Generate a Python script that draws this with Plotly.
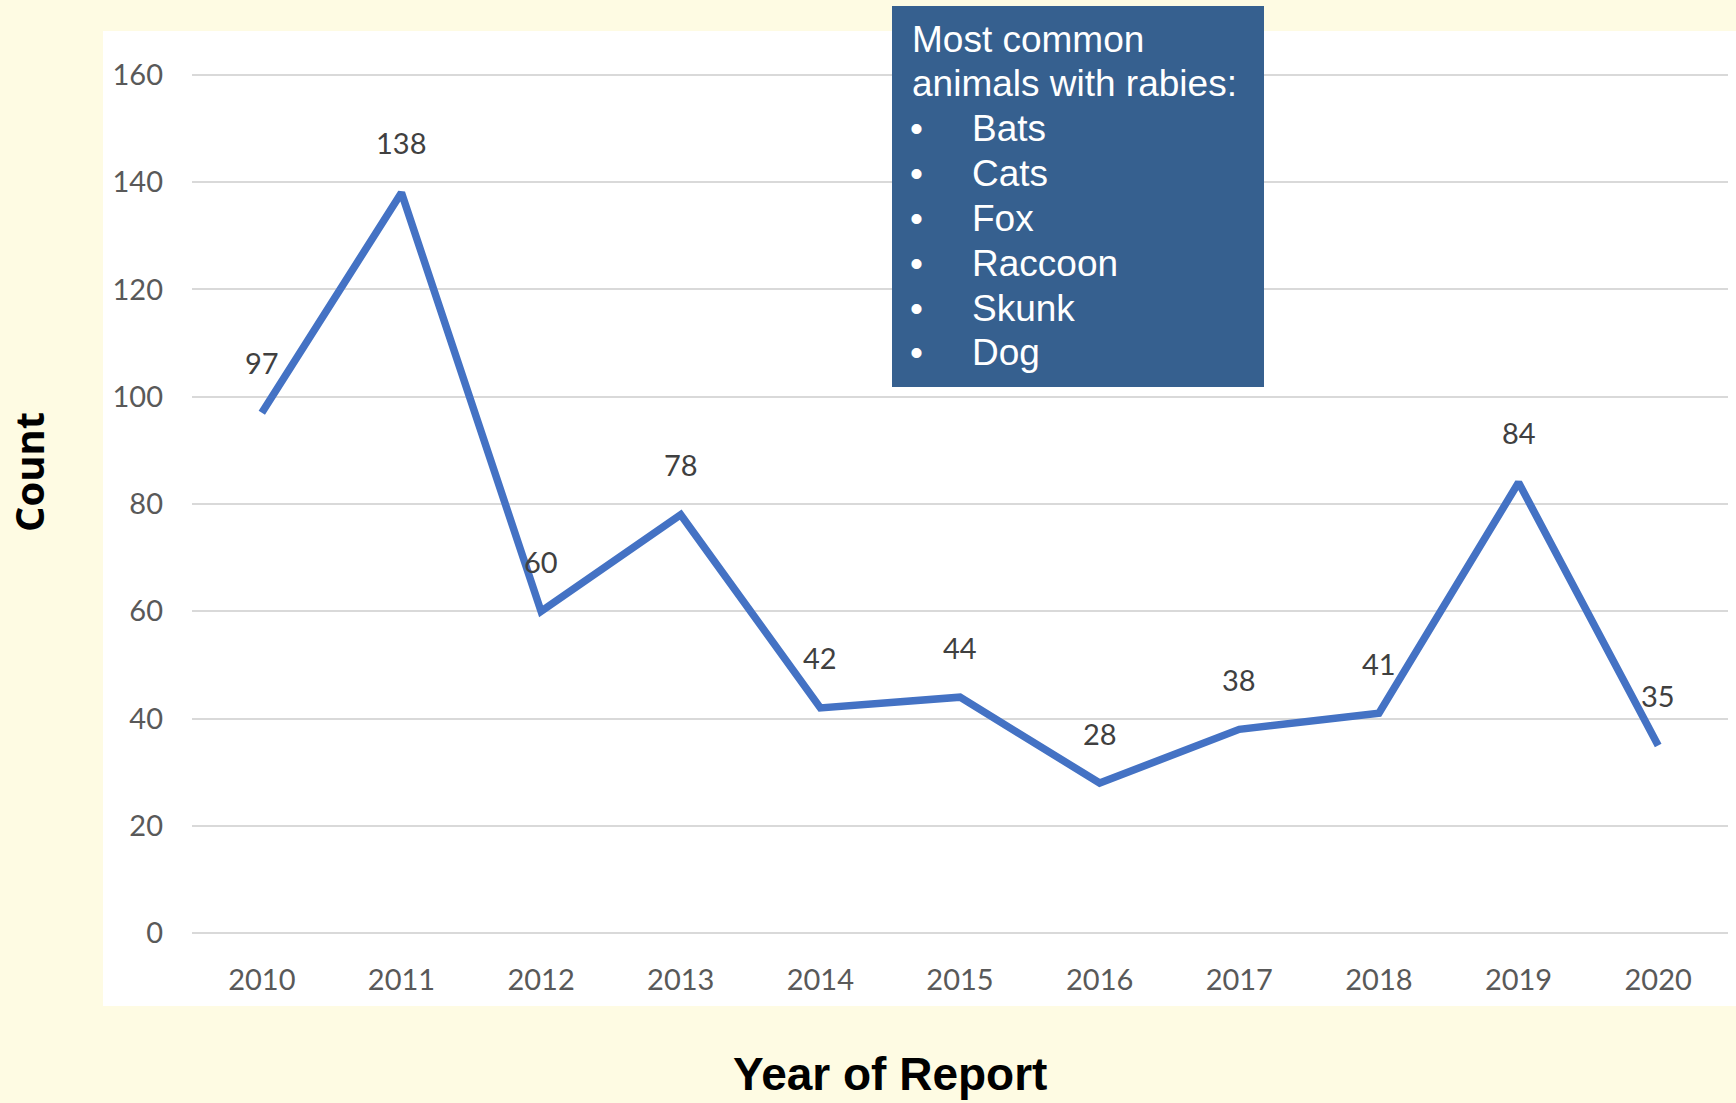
import plotly.graph_objects as go

# Reported rabies cases per year
years = ["2010", "2011", "2012", "2013", "2014", "2015", "2016", "2017", "2018", "2019", "2020"]
counts = [97, 138, 60, 78, 42, 44, 28, 38, 41, 84, 35]
y_ticks = [0, 20, 40, 60, 80, 100, 120, 140, 160]

box_title = ["Most common", "animals with rabies:"]
animals = ["Bats", "Cats", "Fox", "Raccoon", "Skunk", "Dog"]

W, H = 1736, 1103
ML, MR, MT, MB = 192, 8, 64, 159
PW, PH = W - ML - MR, H - MT - MB


def px_x(p):
    return (p - ML) / PW


def px_y(p):
    return (H - MB - p) / PH


BG = "#FEFBE3"
LINE = "#4472C4"
BOX = "#36608F"
TICK_FONT = dict(family="Lato, Carlito, sans-serif", size=29, color="#595959")
LABEL_FONT = dict(family="Lato, Carlito, sans-serif", size=29, color="#404040")
BOX_FONT = dict(family="Arial, Liberation Sans, sans-serif", size=37, color="white")

fig = go.Figure()
fig.add_trace(go.Scatter(
    x=years, y=counts, mode="lines",
    line=dict(color=LINE, width=7.5),
    hoverinfo="skip", showlegend=False,
))

annotations = []
# value labels above each point (category axis positions are indices)
for i, c in enumerate(counts):
    annotations.append(dict(
        x=i, y=c, xref="x", yref="y", text=str(c), showarrow=False,
        yanchor="middle", xanchor="center", yshift=50, font=LABEL_FONT,
    ))

# text box listing animals
line_centers = [39, 84, 128, 173, 218, 263, 308, 353]
for i, t in enumerate(box_title):
    annotations.append(dict(
        x=px_x(910), y=px_y(line_centers[i]), xref="paper", yref="paper",
        text=t, showarrow=False, xanchor="left", yanchor="middle", font=BOX_FONT,
    ))
for i, a in enumerate(animals):
    yc = px_y(line_centers[i + 2])
    annotations.append(dict(
        x=px_x(908), y=yc, xref="paper", yref="paper", text="•", showarrow=False,
        xanchor="left", yanchor="middle", font=BOX_FONT,
    ))
    annotations.append(dict(
        x=px_x(970), y=yc, xref="paper", yref="paper", text=a, showarrow=False,
        xanchor="left", yanchor="middle", font=BOX_FONT,
    ))

# axis titles
annotations.append(dict(
    x=px_x(28), y=px_y(472), xref="paper", yref="paper", text="<b>Count</b>",
    showarrow=False, textangle=-90, xanchor="center", yanchor="middle",
    font=dict(family="Open Sans, sans-serif", size=40, color="black"),
))
annotations.append(dict(
    x=px_x(890), y=px_y(1074), xref="paper", yref="paper", text="<b>Year of Report</b>",
    showarrow=False, xanchor="center", yanchor="middle",
    font=dict(family="Arial, Liberation Sans, sans-serif", size=46, color="black"),
))

shapes = [
    # white chart panel
    dict(type="rect", xref="paper", yref="paper", layer="below",
         x0=px_x(103), x1=px_x(1740), y0=px_y(1006), y1=px_y(31),
         fillcolor="white", line=dict(width=0)),
    # blue callout box
    dict(type="rect", xref="paper", yref="paper", layer="above",
         x0=px_x(892), x1=px_x(1264), y0=px_y(387), y1=px_y(6),
         fillcolor=BOX, line=dict(width=0)),
]

fig.update_layout(
    width=W, height=H,
    margin=dict(l=ML, r=MR, t=MT, b=MB, autoexpand=False),
    paper_bgcolor=BG, plot_bgcolor="rgba(0,0,0,0)",
    annotations=annotations, shapes=shapes,
    showlegend=False,
)
fig.update_xaxes(
    type="category", range=[-0.5, 10.5], showgrid=False, showline=False,
    zeroline=False, ticks="", tickfont=TICK_FONT, ticklabelstandoff=16,
)
fig.update_yaxes(
    range=[-2, 162], tickvals=y_ticks, showgrid=True, gridcolor="#D9D9D9",
    gridwidth=2, zeroline=False, showline=False, ticks="",
    tickfont=TICK_FONT, ticklabelstandoff=28,
)

fig.write_html("out.html")
